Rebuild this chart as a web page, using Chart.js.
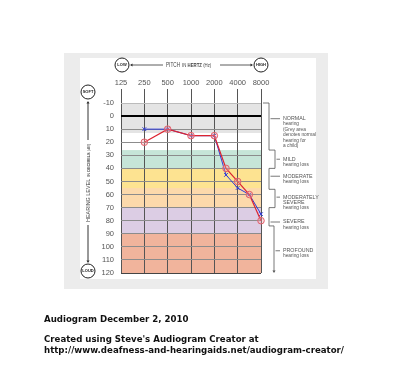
<!DOCTYPE html>
<html>
<head>
<meta charset="utf-8">
<script src="https://cdn.jsdelivr.net/npm/chart.js@4.4.1/dist/chart.umd.min.js"></script>
<style>
  html, body { margin: 0; padding: 0; background: #fff; }
  canvas { display: block; }
</style>
</head>
<body>
<canvas id="audiogram" width="400" height="375"></canvas>
<script>
// frequencies on the axis and the tested ones
const freqLabels = ['125', '250', '500', '1000', '2000', '4000', '8000'];
const octaveHz = [125, 250, 500, 1000, 2000, 4000, 8000];
const testHz = [250, 500, 1000, 2000, 3000, 4000, 6000, 8000];

// hearing levels in dB
const rightEar = [20, 10, 15, 15, 40, 50, 60, 80];
const leftEar = [10, 10, 15, 15, 45, 55, 60, 75];

// coloured bands behind the grid (dB)
const bandFrom = [-10, 13, 26, 40, 55, 70, 90];
const bandTo = [13, 26, 40, 55, 70, 90, 120];
const bandColors = ['#e4e4e4', '#ffffff', '#c6e5d8', '#fde391', '#fcd9ab', '#dccde4', '#f1b49c'];

// hearing loss categories on the right
const lossLines = [
    ['NORMAL', 'hearing', '(Grey area', 'denotes normal', 'hearing for', 'a child)'],
    ['MILD', 'hearing loss'],
    ['MODERATE', 'hearing loss'],
    ['MODERATELY', 'SEVERE', 'hearing loss'],
    ['SEVERE', 'hearing loss'],
    ['PROFOUND', 'hearing loss']
];
const lossFrom = [-10, 26, 40, 56, 70, 84];
const lossTo = [26, 40, 56, 70, 84, 120];
const lossMarkDb = [2, 33, 46, 62, 81, 103];

const bottomNotes = [
    'Audiogram December 2, 2010',
    '',
    'Created using Steve\'s Audiogram Creator at',
    'http://www.deafness-and-hearingaids.net/audiogram-creator/'
];

function hzToPos(f) {
    for (let i = 0; i < octaveHz.length - 1; i++) {
        if (f <= octaveHz[i + 1]) {
            return i + (f - octaveHz[i]) / (octaveHz[i + 1] - octaveHz[i]);
        }
    }
    return octaveHz.length - 1;
}

function circleLabel(ctx, x, y, text) {
    ctx.beginPath();
    ctx.arc(x, y, 7, 0, Math.PI * 2);
    ctx.fillStyle = '#fff';
    ctx.fill();
    ctx.strokeStyle = '#222';
    ctx.lineWidth = 1;
    ctx.stroke();
    ctx.fillStyle = '#222';
    ctx.font = 'bold 4px "Liberation Sans", sans-serif';
    ctx.textAlign = 'center';
    ctx.textBaseline = 'middle';
    ctx.fillText(text, x, y + 0.3);
}

function arrowHead(ctx, x, y, dir) {
    // dir: 'l', 'r', 'u', 'd'
    const s = 2.5;
    ctx.beginPath();
    if (dir === 'l') { ctx.moveTo(x, y); ctx.lineTo(x + s, y - s / 1.6); ctx.lineTo(x + s, y + s / 1.6); }
    if (dir === 'r') { ctx.moveTo(x, y); ctx.lineTo(x - s, y - s / 1.6); ctx.lineTo(x - s, y + s / 1.6); }
    if (dir === 'u') { ctx.moveTo(x, y); ctx.lineTo(x - s / 1.6, y + s); ctx.lineTo(x + s / 1.6, y + s); }
    if (dir === 'd') { ctx.moveTo(x, y); ctx.lineTo(x - s / 1.6, y - s); ctx.lineTo(x + s / 1.6, y - s); }
    ctx.closePath();
    ctx.fill();
}

function line(ctx, x1, y1, x2, y2) {
    ctx.beginPath();
    ctx.moveTo(x1, y1);
    ctx.lineTo(x2, y2);
    ctx.stroke();
}

// draws text squeezed horizontally, returns the advance
function narrowText(ctx, text, x, y, sx) {
    ctx.save();
    ctx.translate(x, y);
    ctx.scale(sx, 1);
    ctx.fillText(text, 0, 0);
    ctx.restore();
    return ctx.measureText(text).width * sx;
}

const decor = {
    id: 'decor',
    beforeDraw(chart) {
        const { ctx, chartArea: a } = chart;
        const y = chart.scales.y;
        ctx.save();
        ctx.fillStyle = '#fff';
        ctx.fillRect(0, 0, chart.width, chart.height);
        ctx.fillStyle = '#ececec';
        ctx.fillRect(64, 53, 264, 236);
        ctx.fillStyle = '#fff';
        ctx.fillRect(80, 58, 236, 221);
        bandFrom.forEach((from, i) => {
            const top = y.getPixelForValue(from);
            const bot = y.getPixelForValue(bandTo[i]);
            ctx.fillStyle = bandColors[i];
            ctx.fillRect(a.left, top, a.right - a.left, bot - top);
        });
        ctx.restore();
    },
    afterDraw(chart) {
        const { ctx } = chart;
        const y = chart.scales.y;
        ctx.save();
        ctx.strokeStyle = '#333';
        ctx.fillStyle = '#333';
        ctx.lineWidth = 0.8;

        // pitch header
        const hy = 65;
        line(ctx, 131, hy, 163, hy);
        line(ctx, 220, hy, 252, hy);
        arrowHead(ctx, 130, hy, 'l');
        arrowHead(ctx, 253, hy, 'r');
        ctx.textBaseline = 'middle';
        ctx.textAlign = 'left';
        ctx.fillStyle = '#444';
        ctx.font = '6.5px "Liberation Sans", sans-serif';
        let px = 166 + narrowText(ctx, 'PITCH', 166, hy, 0.72) + 2;
        ctx.font = '4.8px "Liberation Sans", sans-serif';
        px += narrowText(ctx, 'IN ', px, hy + 0.5, 0.9);
        ctx.font = 'bold 4.8px "Liberation Sans", sans-serif';
        px += narrowText(ctx, 'HERTZ ', px, hy + 0.5, 0.9);
        ctx.font = '4.8px "Liberation Sans", sans-serif';
        narrowText(ctx, '(Hz)', px, hy + 0.5, 0.9);
        circleLabel(ctx, 122, hy, 'LOW');
        circleLabel(ctx, 261, hy, 'HIGH');

        // hearing level side title
        ctx.strokeStyle = '#333';
        ctx.fillStyle = '#333';
        const vx = 88;
        line(ctx, vx, 102, vx, 140);
        line(ctx, vx, 225, vx, 262);
        arrowHead(ctx, vx, 101, 'u');
        arrowHead(ctx, vx, 263, 'd');
        ctx.save();
        ctx.translate(vx, 222);
        ctx.rotate(-Math.PI / 2);
        ctx.fillStyle = '#444';
        ctx.textAlign = 'left';
        ctx.textBaseline = 'middle';
        ctx.font = '6.2px "Liberation Sans", sans-serif';
        let tx = narrowText(ctx, 'HEARING LEVEL', 0, 0, 0.88) + 2;
        ctx.font = '4.2px "Liberation Sans", sans-serif';
        tx += narrowText(ctx, 'IN ', tx, 0.4, 0.92);
        ctx.font = 'bold 4.2px "Liberation Sans", sans-serif';
        tx += narrowText(ctx, 'DECIBELS ', tx, 0.4, 0.92);
        ctx.font = '4.2px "Liberation Sans", sans-serif';
        narrowText(ctx, '(dB)', tx, 0.4, 0.92);
        ctx.restore();
        circleLabel(ctx, vx, 92, 'SOFT');
        circleLabel(ctx, vx, 271, 'LOUD');

        // brackets for the hearing loss categories
        ctx.strokeStyle = '#555';
        ctx.fillStyle = '#555';
        ctx.lineWidth = 0.8;
        const bx = 269, boxX = 275;
        line(ctx, 263, y.getPixelForValue(lossFrom[0]), bx, y.getPixelForValue(lossFrom[0]));
        lossLines.forEach((lines, i) => {
            const top = y.getPixelForValue(lossFrom[i]);
            const bot = y.getPixelForValue(lossTo[i]);
            const mark = y.getPixelForValue(lossMarkDb[i]);
            let edge = bx;
            ctx.beginPath();
            if (i === lossLines.length - 1) {
                ctx.moveTo(bx, top);
                ctx.lineTo(274, top);
                ctx.lineTo(274, bot - 2);
                ctx.stroke();
                arrowHead(ctx, 274, bot, 'd');
                edge = 274;
            } else if (i % 2 === 1) {
                ctx.moveTo(bx, top);
                ctx.lineTo(boxX, top);
                ctx.lineTo(boxX, bot);
                ctx.lineTo(bx, bot);
                ctx.stroke();
                edge = boxX;
            } else {
                ctx.moveTo(bx, top);
                ctx.lineTo(bx, bot);
                ctx.stroke();
            }
            line(ctx, edge + 1.5, mark, 280, mark);

            ctx.fillStyle = '#555';
            ctx.textAlign = 'left';
            ctx.textBaseline = 'middle';
            lines.forEach((t, j) => {
                ctx.font = (j === 0 || t === 'SEVERE' ? '5.3px' : '4.8px') + ' "Liberation Sans", sans-serif';
                ctx.fillText(t, 283, mark + j * 5.4);
            });
        });

        // notes under the chart
        ctx.fillStyle = '#111';
        ctx.textAlign = 'left';
        ctx.textBaseline = 'middle';
        ctx.font = 'bold 8.5px "DejaVu Sans", sans-serif';
        const sx = 300 / ctx.measureText(bottomNotes[3]).width;
        const rows = [320, 330, 340, 350.5];
        bottomNotes.forEach((t, i) => {
            if (t) narrowText(ctx, t, 44, rows[i], sx);
        });
        ctx.restore();
    }
};

const ctx = document.getElementById('audiogram');

new Chart(ctx, {
    type: 'line',
    data: {
        datasets: [
            {
                label: 'Right ear',
                data: testHz.map((f, i) => ({ x: hzToPos(f), y: rightEar[i] })),
                borderColor: '#dc2430',
                borderWidth: 1.2,
                pointStyle: 'circle',
                pointRadius: 3.3,
                pointBorderColor: '#e4606c',
                pointBackgroundColor: 'rgba(245,160,170,0.35)',
                pointBorderWidth: 1,
                clip: false
            },
            {
                label: 'Left ear',
                data: testHz.map((f, i) => ({ x: hzToPos(f), y: leftEar[i] })),
                borderColor: '#2e3ad8',
                borderWidth: 1,
                pointStyle: 'crossRot',
                pointRadius: 2.6,
                pointBorderColor: '#2e3ad8',
                pointBorderWidth: 1,
                clip: false
            }
        ]
    },
    options: {
        responsive: false,
        animation: false,
        layout: { padding: { left: 0, top: 0, right: 139, bottom: 102 } },
        plugins: {
            legend: { display: false },
            tooltip: { enabled: false }
        },
        scales: {
            x: {
                type: 'linear',
                position: 'top',
                min: 0,
                max: octaveHz.length - 1,
                afterFit: s => { s.height = 103; },
                afterBuildTicks: s => { s.ticks = freqLabels.map((_, i) => ({ value: i })); },
                ticks: {
                    callback: v => freqLabels[v],
                    color: '#555',
                    font: { family: '"Liberation Sans", sans-serif', size: 7.5 },
                    padding: 2,
                    maxRotation: 0,
                    autoSkip: false
                },
                grid: { color: '#555', lineWidth: 1, tickLength: 14 },
                border: { display: false }
            },
            y: {
                type: 'linear',
                reverse: true,
                min: -10,
                max: 120,
                afterFit: s => { s.width = 121; },
                ticks: {
                    stepSize: 10,
                    color: '#555',
                    font: { family: '"Liberation Sans", sans-serif', size: 7.5 },
                    padding: 7
                },
                grid: {
                    drawTicks: false,
                    color: c => c.tick.value === 0 ? '#000' : (c.tick.value === 120 ? '#444' : (c.tick.value === -10 ? '#bbb' : '#8c8c8c')),
                    lineWidth: c => c.tick.value === 0 ? 2 : 1
                },
                border: { display: false }
            }
        }
    },
    plugins: [decor]
});
</script>
</body>
</html>
